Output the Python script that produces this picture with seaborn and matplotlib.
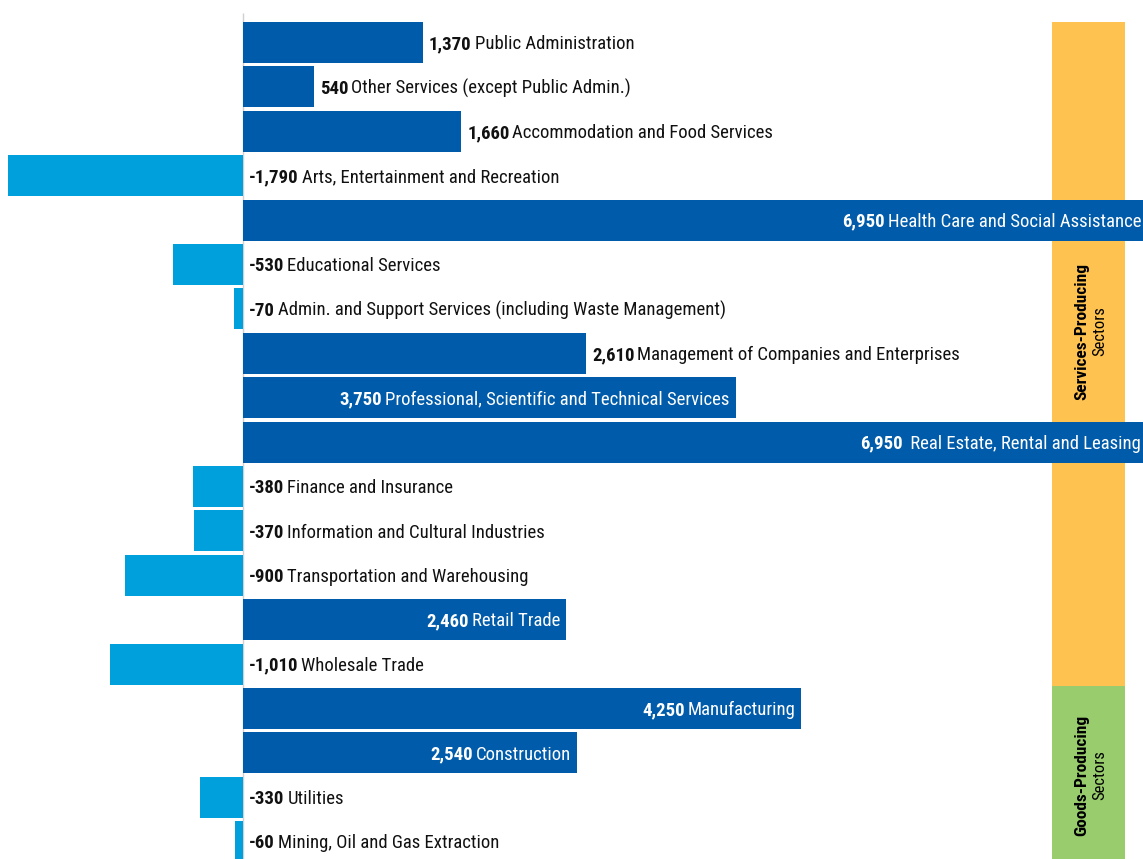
import numpy as np
import pandas as pd
import matplotlib
matplotlib.use("Agg")
import matplotlib.pyplot as plt
import matplotlib.transforms as mtransforms
from matplotlib.patches import Rectangle
import seaborn as sns

# Employment change by industry (top to bottom as drawn)
sectors = [
    "Public Administration",
    "Other Services (except Public Admin.)",
    "Accommodation and Food Services",
    "Arts, Entertainment and Recreation",
    "Health Care and Social Assistance",
    "Educational Services",
    "Admin. and Support Services (including Waste Management)",
    "Management of Companies and Enterprises",
    "Professional, Scientific and Technical Services",
    " Real Estate, Rental and Leasing",
    "Finance and Insurance",
    "Information and Cultural Industries",
    "Transportation and Warehousing",
    "Retail Trade",
    "Wholesale Trade",
    "Manufacturing",
    "Construction",
    "Utilities",
    "Mining, Oil and Gas Extraction",
]
changes = [1370, 540, 1660, -1790, 6950, -530, -70, 2610, 3750, 6950,
           -380, -370, -900, 2460, -1010, 4250, 2540, -330, -60]

group_names = ["Services-Producing", "Goods-Producing"]
group_sizes = [15, 4]

DARK = "#005BAA"
LIGHT = "#00A0DC"
GROUP_COLORS = ["#FDC24F", "#98CC6C"]
FS = 13.5

sns.set_style("white")
plt.rcParams["font.family"] = ["Roboto Condensed", "Roboto", "DejaVu Sans"]

df = pd.DataFrame({"sector": sectors, "change": changes})
df["sign"] = np.where(df["change"] >= 0, "gain", "loss")

fig = plt.figure(figsize=(11.43, 8.59), dpi=100)
ax = fig.add_axes([0, 0, 1, 1])
sns.barplot(data=df, x="change", y="sector", hue="sign", orient="h",
            palette={"gain": DARK, "loss": LIGHT}, dodge=False, width=0.92,
            saturation=1, legend=False, ax=ax, zorder=2, linewidth=0)

ax.set_xlim(-1849, 6849)
ax.set_ylim(18.39, -0.957)
ax.axis("off")

# zero line
ax.vlines(0, -0.66, 19, color="#d0d0d0", lw=1, zorder=1)

# sector group bands on the right
blend = mtransforms.blended_transform_factory(ax.transAxes, ax.transData)
bounds = [-0.46, group_sizes[0] - 0.5, sum(group_sizes) + 0.5]
text_y = [6.5, 16.5]
for k, (name, col) in enumerate(zip(group_names, GROUP_COLORS)):
    ax.add_patch(Rectangle((0.920, bounds[k]), 0.064, bounds[k + 1] - bounds[k],
                           transform=blend, color=col, zorder=0, lw=0))
    ax.text(0.9466, text_y[k], name, transform=blend, rotation=90, ha="center", va="center",
            fontsize=12.5, fontweight="bold", color="black")
    ax.text(0.9624, text_y[k], "Sectors", transform=blend, rotation=90, ha="center", va="center",
            fontsize=12, color="black")

# value + name labels
fig.canvas.draw()
renderer = fig.canvas.get_renderer()
ppu = ax.transData.transform((1, 0))[0] - ax.transData.transform((0, 0))[0]
xmax = ax.get_xlim()[1]
pad = 6
gap = 3
dy = -0.36 * FS * fig.dpi / 72

for i, (name, v) in enumerate(zip(sectors, changes)):
    num = f"{v:,}"
    t1 = ax.text(0, 0, num, fontsize=FS, fontweight="bold")
    t2 = ax.text(0, 0, name, fontsize=FS)
    w1 = t1.get_window_extent(renderer).width
    w2 = t2.get_window_extent(renderer).width
    t1.remove()
    t2.remove()
    inside = v > 0 and (w1 + gap + w2 + 2 * pad) < v * ppu
    if inside:
        xe = min(v, xmax)
        p = pad if v <= xmax else 2
        tr_name = mtransforms.offset_copy(ax.transData, fig=fig, x=-p, y=dy, units="dots")
        tr_num = mtransforms.offset_copy(ax.transData, fig=fig, x=-p - w2 - gap, y=dy, units="dots")
        ax.text(xe, i, name, transform=tr_name, ha="right", va="baseline", fontsize=FS, color="white", zorder=3)
        ax.text(xe, i, num, transform=tr_num, ha="right", va="baseline", fontsize=FS,
                fontweight="bold", color="white", zorder=3)
    else:
        x0 = max(v, 0)
        tr_num = mtransforms.offset_copy(ax.transData, fig=fig, x=pad, y=dy, units="dots")
        tr_name = mtransforms.offset_copy(ax.transData, fig=fig, x=pad + w1 + gap, y=dy, units="dots")
        ax.text(x0, i, num, transform=tr_num, ha="left", va="baseline", fontsize=FS,
                fontweight="bold", color="#111111", zorder=3)
        ax.text(x0, i, name, transform=tr_name, ha="left", va="baseline", fontsize=FS,
                color="#111111", zorder=3)

fig.savefig("out.png", dpi=100)
